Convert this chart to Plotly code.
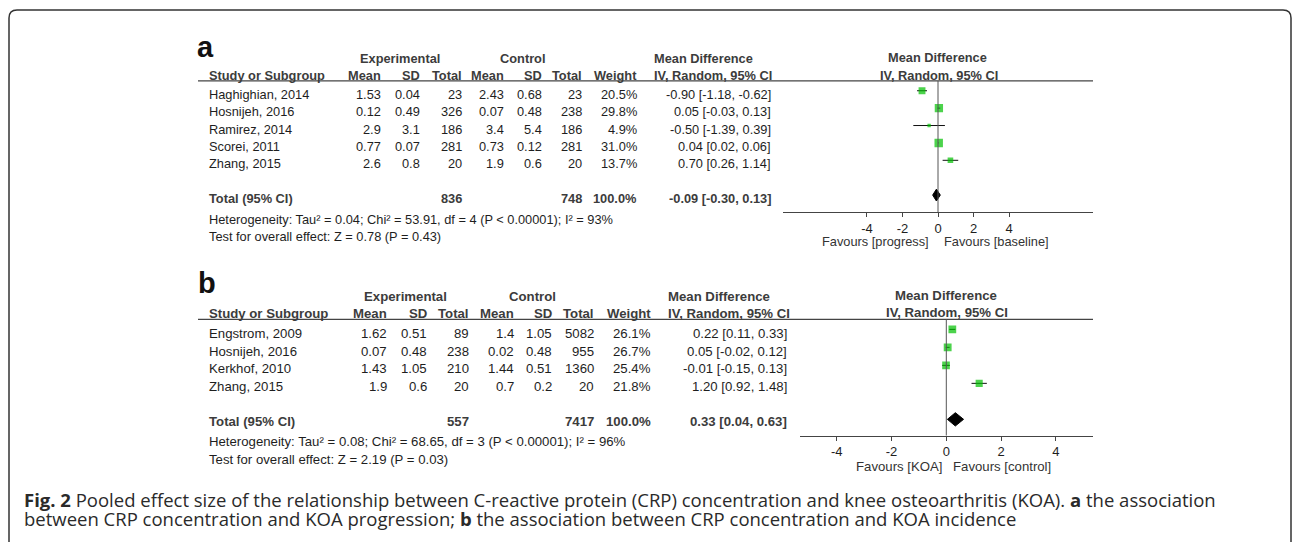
import math
import plotly.graph_objects as go

W, H = 1292, 542

# ---------------- Data: panel a (KOA progression) ----------------
studies_a = ["Haghighian, 2014", "Hosnijeh, 2016", "Ramirez, 2014", "Scorei, 2011", "Zhang, 2015"]
exp_mean_a = [1.53, 0.12, 2.9, 0.77, 2.6]
exp_sd_a = [0.04, 0.49, 3.1, 0.07, 0.8]
exp_n_a = [23, 326, 186, 281, 20]
ctl_mean_a = [2.43, 0.07, 3.4, 0.73, 1.9]
ctl_sd_a = [0.68, 0.48, 5.4, 0.12, 0.6]
ctl_n_a = [23, 238, 186, 281, 20]
weight_a = [20.5, 29.8, 4.9, 31.0, 13.7]
md_a = [-0.90, 0.05, -0.50, 0.04, 0.70]
lo_a = [-1.18, -0.03, -1.39, 0.02, 0.26]
hi_a = [-0.62, 0.13, 0.39, 0.06, 1.14]
total_a = {"exp_n": 836, "ctl_n": 748, "md": -0.09, "lo": -0.30, "hi": 0.13}
het_a = "Heterogeneity: Tau² = 0.04; Chi² = 53.91, df = 4 (P < 0.00001); I² = 93%"
test_a = "Test for overall effect: Z = 0.78 (P = 0.43)"
favours_a = ["Favours [progress]", "Favours [baseline]"]

# ---------------- Data: panel b (KOA incidence) ----------------
studies_b = ["Engstrom, 2009", "Hosnijeh, 2016", "Kerkhof, 2010", "Zhang, 2015"]
exp_mean_b = [1.62, 0.07, 1.43, 1.9]
exp_sd_b = [0.51, 0.48, 1.05, 0.6]
exp_n_b = [89, 238, 210, 20]
ctl_mean_b = [1.4, 0.02, 1.44, 0.7]
ctl_sd_b = [1.05, 0.48, 0.51, 0.2]
ctl_n_b = [5082, 955, 1360, 20]
weight_b = [26.1, 26.7, 25.4, 21.8]
md_b = [0.22, 0.05, -0.01, 1.20]
lo_b = [0.11, -0.02, -0.15, 0.92]
hi_b = [0.33, 0.12, 0.13, 1.48]
total_b = {"exp_n": 557, "ctl_n": 7417, "md": 0.33, "lo": 0.04, "hi": 0.63}
het_b = "Heterogeneity: Tau² = 0.08; Chi² = 68.65, df = 3 (P < 0.00001); I² = 96%"
test_b = "Test for overall effect: Z = 2.19 (P = 0.03)"
favours_b = ["Favours [KOA]", "Favours [control]"]

tick_vals = [-4, -2, 0, 2, 4]
tick_text = ["-4", "-2", "0", "2", "4"]

caption_1 = ("<b>Fig. 2</b> Pooled effect size of the relationship between C-reactive protein (CRP) "
             "concentration and knee osteoarthritis (KOA). <b>a</b> the association")
caption_2 = "between CRP concentration and KOA progression; <b>b</b> the association between CRP concentration and KOA incidence"

# ---------------- Helpers ----------------
FONT = "Liberation Sans, Arial, sans-serif"
TXT = "#1e1e1e"
HDR = "#3c3c3c"
GREEN = "#00c000"


def px(x):
    return x / W


def py(y):
    return 1 - y / H


fig = go.Figure()


def label(text, x, y, anchor="left", size=12, color=TXT, family=FONT):
    fig.add_annotation(x=px(x), y=py(y), xref="paper", yref="paper", text=text,
                       showarrow=False, xanchor=anchor, yanchor="middle",
                       borderpad=0, borderwidth=0,
                       font=dict(family=family, size=size, color=color))


def hline(x0, x1, y, color="#444", width=1.2):
    fig.add_shape(type="line", xref="paper", yref="paper", x0=px(x0), x1=px(x1),
                  y0=py(y), y1=py(y), line=dict(color=color, width=width))


def panel(cfg):
    s = cfg["fs"]
    c = cfg["cols"]
    # panel letter
    label("<b>%s</b>" % cfg["letter"], cfg["letter_x"], cfg["letter_y"], size=29, color="#111")
    # header row 1
    label("<b>Experimental</b>", c["exp_hdr"], cfg["h1"], "center", s, HDR)
    label("<b>Control</b>", c["ctl_hdr"], cfg["h1"], "center", s, HDR)
    label("<b>Mean Difference</b>", c["md_left"], cfg["h1"], "left", s, HDR)
    label("<b>Mean Difference</b>", c["forest_hdr"], cfg["h1"] - 0.5, "center", s, HDR)
    # header row 2
    label("<b>Study or Subgroup</b>", c["name"], cfg["h2"], "left", s, HDR)
    for key, t in [("em", "Mean"), ("es", "SD"), ("en", "Total"), ("cm", "Mean"),
                   ("cs", "SD"), ("cn", "Total"), ("w", "Weight")]:
        label("<b>%s</b>" % t, c[key], cfg["h2"], "right", s, HDR)
    label("<b>IV, Random, 95% CI</b>", c["md_left"], cfg["h2"], "left", s, HDR)
    label("<b>IV, Random, 95% CI</b>", c["forest_hdr"] + 1.5, cfg["h2"] - 0.5, "center", s, HDR)
    hline(198, 1093, cfg["hline"])

    d = cfg["data"]
    n = len(d["studies"])
    for i in range(n):
        y = cfg["row0"] + cfg["pitch"] * i
        label(d["studies"][i], c["name"], y, "left", s)
        label(str(d["em"][i]), c["em"], y, "right", s)
        label(str(d["es"][i]), c["es"], y, "right", s)
        label(str(d["en"][i]), c["en"], y, "right", s)
        label(str(d["cm"][i]), c["cm"], y, "right", s)
        label(str(d["cs"][i]), c["cs"], y, "right", s)
        label(str(d["cn"][i]), c["cn"], y, "right", s)
        label("%.1f%%" % d["w"][i], c["w"], y, "right", s)
        label("%.2f [%.2f, %.2f]" % (d["md"][i], d["lo"][i], d["hi"][i]), c["ci"], y, "right", s)
    t = d["total"]
    yt = cfg["row_total"]
    label("<b>Total (95% CI)</b>", c["name"], yt, "left", s, HDR)
    label("<b>%d</b>" % t["exp_n"], c["en"], yt, "right", s, HDR)
    label("<b>%d</b>" % t["ctl_n"], c["cn"], yt, "right", s, HDR)
    label("<b>100.0%</b>", c["w"], yt, "right", s, HDR)
    label("<b>%.2f [%.2f, %.2f]</b>" % (t["md"], t["lo"], t["hi"]), c["ci"], yt, "right", s, HDR)
    label(d["het"], c["name"], cfg["y_het"], "left", s)
    label(d["test"], c["name"], cfg["y_test"], "left", s)
    label(d["fav"][0], cfg["fav_l"], cfg["y_fav"], "right", s, "#333")
    label(d["fav"][1], cfg["fav_r"], cfg["y_fav"], "left", s, "#333")


data_a = dict(studies=studies_a, em=exp_mean_a, es=exp_sd_a, en=exp_n_a, cm=ctl_mean_a,
              cs=ctl_sd_a, cn=ctl_n_a, w=weight_a, md=md_a, lo=lo_a, hi=hi_a,
              total=total_a, het=het_a, test=test_a, fav=favours_a)
data_b = dict(studies=studies_b, em=exp_mean_b, es=exp_sd_b, en=exp_n_b, cm=ctl_mean_b,
              cs=ctl_sd_b, cn=ctl_n_b, w=weight_b, md=md_b, lo=lo_b, hi=hi_b,
              total=total_b, het=het_b, test=test_b, fav=favours_b)

cfg_a = dict(letter="a", letter_x=197, letter_y=47, fs=12.8, h1=58.3, h2=75.7, hline=80.8,
             row0=94.3, pitch=17.4, row_total=198.5, y_het=219.3, y_test=236.7,
             fav_l=929, fav_r=943.7, y_fav=241.7, data=data_a,
             cols=dict(name=209.3, em=380.7, es=420, en=461.7, cm=504, cs=541.7, cn=582.3,
                       w=637.3, ci=770.5, exp_hdr=399.5, ctl_hdr=522.8, md_left=654,
                       forest_hdr=937.5))
cfg_b = dict(letter="b", letter_x=198, letter_y=283, fs=13.2, h1=296, h2=313.3, hline=319.3,
             row0=333.3, pitch=17.8, row_total=421.7, y_het=441, y_test=459.3,
             fav_l=942.3, fav_r=952.7, y_fav=466.7, data=data_b,
             cols=dict(name=209.3, em=386.7, es=426.7, en=469.3, cm=514.3, cs=551.7, cn=594.3,
                       w=650.7, ci=787.3, exp_hdr=405, ctl_hdr=532.7, md_left=667.7,
                       forest_hdr=945.7))
panel(cfg_a)
panel(cfg_b)


# ---------------- Forest plots ----------------
def forest(d, xa, ya, total_row, half_h, ytop, ybot, size_k=1.52):
    n = len(d["studies"])
    rows = list(range(n))
    fig.add_trace(go.Scatter(
        x=d["md"], y=rows, mode="markers", xaxis=xa, yaxis=ya, showlegend=False,
        hoverinfo="skip",
        marker=dict(symbol="square", color=GREEN, size=[size_k * math.sqrt(w) for w in d["w"]],
                    line=dict(width=0)),
        error_x=dict(type="data", symmetric=False,
                     array=[h - m for h, m in zip(d["hi"], d["md"])],
                     arrayminus=[m - l for m, l in zip(d["md"], d["lo"])],
                     color="#111", thickness=1, width=0)))
    t = d["total"]
    fig.add_trace(go.Scatter(
        x=[t["lo"], t["md"], t["hi"], t["md"], t["lo"]],
        y=[total_row, total_row - half_h, total_row, total_row + half_h, total_row],
        mode="lines", fill="toself", fillcolor="#000", line=dict(color="#000", width=1),
        xaxis=xa, yaxis=ya, showlegend=False, hoverinfo="skip"))
    fig.add_shape(type="line", xref=xa, yref=ya, x0=0, x1=0, y0=ytop, y1=ybot,
                  line=dict(color="#555", width=1))


forest(data_a, "x", "y", 6, 0.34, -0.56, 6.99)
forest(data_b, "x2", "y2", 5, 0.37, -0.56, 5.91)

axis_common = dict(showgrid=False, zeroline=False, showline=True, linecolor="#444", linewidth=1,
                   ticks="outside", ticklen=4, tickcolor="#444", tickvals=tick_vals,
                   ticktext=tick_text, tickfont=dict(family=FONT, size=13, color=TXT),
                   fixedrange=True)
fig.update_layout(
    width=W, height=H, margin=dict(l=0, r=0, t=0, b=0, pad=0),
    paper_bgcolor="white", plot_bgcolor="rgba(0,0,0,0)",
    xaxis=dict(domain=[px(783), px(1093)], range=[-8.73, 8.73], anchor="y", **axis_common),
    yaxis=dict(domain=[py(212.3), py(81)], range=[6.99, -0.56], visible=False, fixedrange=True),
    xaxis2=dict(domain=[px(800), px(1092.6)], range=[-5.34, 5.34], anchor="y2", **axis_common),
    yaxis2=dict(domain=[py(435.7), py(319.3)], range=[5.91, -0.56], visible=False, fixedrange=True),
)

# ---------------- Caption & frame ----------------
CAP = "Open Sans, Noto Sans, sans-serif"
label(caption_1, 24, 499, "left", 18.5, "#2a2a2a", CAP)
label(caption_2, 24, 518, "left", 18.5, "#2a2a2a", CAP)

frame = "M %f,%f L %f,%f Q %f,%f %f,%f L %f,%f Q %f,%f %f,%f L %f,%f" % (
    px(9), py(542), px(9), py(18), px(9), py(10), px(17), py(10),
    px(1283), py(10), px(1291), py(10), px(1291), py(18), px(1291), py(542))
fig.add_shape(type="path", xref="paper", yref="paper", path=frame,
              line=dict(color="#333", width=1.5))

fig.write_html("out.html", config={"displayModeBar": False},
               post_script="document.body.style.margin='0px';document.body.style.overflow='hidden';")
